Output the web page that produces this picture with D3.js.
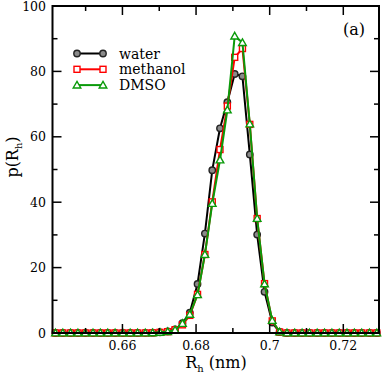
<!DOCTYPE html>
<html><head><meta charset="utf-8">
<script src="https://cdn.jsdelivr.net/npm/d3@7"></script>
<style>body{margin:0;background:#fff}</style>
</head><body><svg id="c" width="382" height="375" font-family="DejaVu Serif"></svg>
<script>
const rh = [0.6418,0.6438,0.6459,0.6479,0.6499,0.6520,0.6540,0.6560,0.6580,0.6601,0.6621,0.6641,0.6662,0.6682,0.6702,0.6723,0.6743,0.6763,0.6783,0.6804,0.6824,0.6844,0.6865,0.6885,0.6905,0.6926,0.6946,0.6966,0.6986,0.7007,0.7027,0.7047,0.7068,0.7088,0.7108,0.7129,0.7149,0.7169,0.7189,0.7210,0.7230,0.7250,0.7271,0.7291];
const water = [0,0,0,0,0,0,0,0,0,0,0,0,0.05,0.1,0.2,0.5,1.1,3.0,6.2,15.0,30.4,49.8,62.6,70.6,79.2,78.5,54.6,30.1,12.6,3.2,0.3,0,0,0,0,0,0,0,0,0,0,0,0,0];
const methanol = [0,0,0,0,0,0,0,0,0,0,0,0,0,0.05,0.2,0.4,1.0,2.5,5.4,11.8,24.0,40.1,56.1,69.4,84.3,87.0,63.8,35.0,15.1,3.7,0.3,0,0,0,0,0,0,0,0,0,0,0,0,0];
const dmso = [0,0,0,0,0,0,0,0,0,0,0,0,0,0.05,0.2,0.4,0.9,2.9,5.7,11.7,24.0,39.6,52.9,68.2,90.8,88.8,63.9,35.0,15.0,3.8,0.3,0,0,0,0,0,0,0,0,0,0,0,0,0];
const seriesNames = ["water","methanol","DMSO"];
const xTicks = [0.66,0.68,0.70,0.72];
const xTickLabels = ["0.66","0.68","0.7","0.72"];
const xMinor = [0.65,0.67,0.69,0.71];
const yTicks = [0,20,40,60,80,100];
const yMinor = [10,30,50,70,90];

const svg = d3.select("#c");
const L=52.5,R=379,T=6,B=333;
const x = d3.scaleLinear().domain([0.641,0.7297]).range([L,R]);
const y = d3.scaleLinear().domain([0,100]).range([B,T]);

const series = [
  {name:seriesNames[0], vals:water, color:"#000", marker:"circle"},
  {name:seriesNames[1], vals:methanol, color:"#ff0000", marker:"square"},
  {name:seriesNames[2], vals:dmso, color:"#0a9a0a", marker:"triangle"}
];

function drawMarker(g, type, cx, cy, color){
  if(type==="circle"){
    g.append("circle").attr("cx",cx).attr("cy",cy).attr("r",3.2)
      .attr("fill","#8a8a8a").attr("stroke","#222").attr("stroke-width",1.4);
  } else if(type==="square"){
    g.append("rect").attr("x",cx-3).attr("y",cy-3).attr("width",6).attr("height",6)
      .attr("fill","#fff").attr("stroke",color).attr("stroke-width",1.4);
  } else {
    const s=3.8;
    g.append("path").attr("d",`M${cx},${cy-s}L${cx+s},${cy+s*0.75}L${cx-s},${cy+s*0.75}Z`)
      .attr("fill","#fff").attr("stroke",color).attr("stroke-width",1.4);
  }
}

const plot = svg.append("g");
const line = d3.line().x((d,i)=>x(rh[i])).y(d=>y(d));
series.forEach(s=>{
  const g = plot.append("g");
  g.append("path").datum(s.vals).attr("d",line).attr("fill","none")
    .attr("stroke",s.color).attr("stroke-width",2).attr("stroke-linejoin","round");
  s.vals.forEach((v,i)=>drawMarker(g,s.marker,x(rh[i]),y(v),s.color));
});

svg.append("rect").attr("x",L).attr("y",T).attr("width",R-L).attr("height",B-T)
  .attr("fill","none").attr("stroke","#000").attr("stroke-width",2);

const ax = svg.append("g");
const tk = (x1,y1,x2,y2)=>ax.append("line").attr("x1",x1).attr("y1",y1).attr("x2",x2).attr("y2",y2).attr("stroke","#000").attr("stroke-width",1.5);
xTicks.forEach(t=>{ tk(x(t),B,x(t),B-9); tk(x(t),T,x(t),T+9); });
xMinor.forEach(t=>{ tk(x(t),B,x(t),B-5); tk(x(t),T,x(t),T+5); });
yTicks.forEach(t=>{ tk(L,y(t),L+9,y(t)); tk(R,y(t),R-9,y(t)); });
yMinor.forEach(t=>{ tk(L,y(t),L+5,y(t)); tk(R,y(t),R-5,y(t)); });

xTicks.forEach((t,i)=>ax.append("text").attr("x",x(t)).attr("y",350).attr("text-anchor","middle")
  .attr("font-size",12.5).text(xTickLabels[i]));
yTicks.forEach(t=>ax.append("text").attr("x",46).attr("y",y(t)+4.5).attr("text-anchor","end")
  .attr("font-size",12.5).text(t));

const xt = svg.append("text").attr("x",216).attr("y",368).attr("text-anchor","middle").attr("font-size",16);
xt.append("tspan").text("R");
xt.append("tspan").attr("font-size",10).attr("dy",4).text("h");
xt.append("tspan").attr("dy",-4).text(" (nm)");

const yt = svg.append("text").attr("transform","translate(18,157) rotate(-90)").attr("text-anchor","middle").attr("font-size",16);
yt.append("tspan").text("p(R");
yt.append("tspan").attr("font-size",10).attr("dy",4).text("h");
yt.append("tspan").attr("dy",-4).text(")");

svg.append("text").attr("x",343).attr("y",35).attr("font-size",16).text("(a)");

const lg = svg.append("g");
series.forEach((s,i)=>{
  const ly = 53.5 + i*15.8;
  lg.append("line").attr("x1",77).attr("x2",103).attr("y1",ly).attr("y2",ly).attr("stroke",s.color).attr("stroke-width",2);
  drawMarker(lg,s.marker,77,ly,s.color);
  drawMarker(lg,s.marker,103,ly,s.color);
  lg.append("text").attr("x",119).attr("y",ly+5).attr("font-size",14).text(s.name);
});
</script></body></html>
